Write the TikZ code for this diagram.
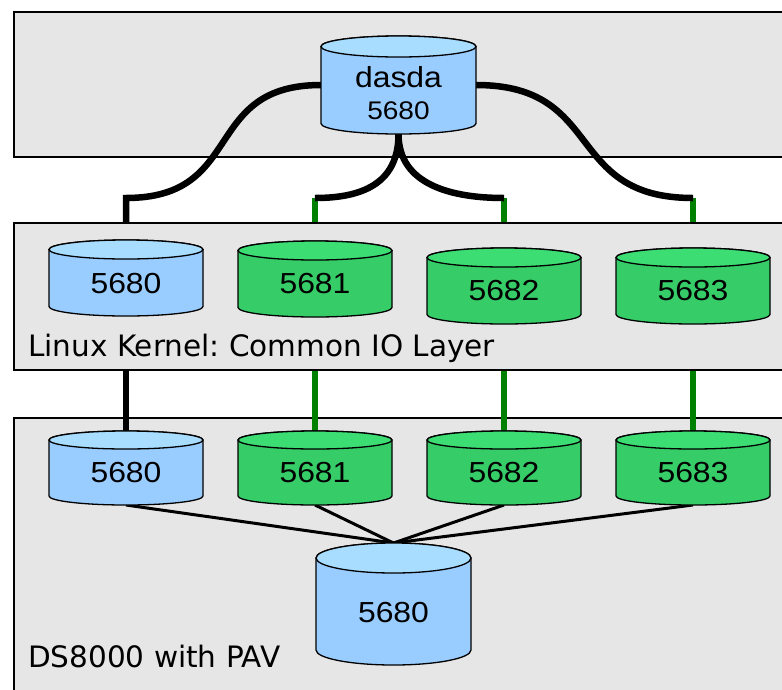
\documentclass[tikz,border=0pt]{standalone}
\usepackage{fontspec}
\setmainfont{DejaVu Sans}
\newfontfamily\numfont[FakeStretch=1.1]{Liberation Sans}
\definecolor{bluebody}{RGB}{153,204,255}
\definecolor{bluetop}{RGB}{168,221,255}
\definecolor{greenbody}{RGB}{54,204,104}
\definecolor{greentop}{RGB}{60,222,116}
\definecolor{boxgrey}{RGB}{230,230,230}
\definecolor{linkgreen}{RGB}{0,128,0}
\frenchspacing
% #1 cx, #2 ytop(px), #3 ybot(px), #4 rx, #5 ry, #6 body colour, #7 top colour
\newcommand\drawcyl[7]{%
  \draw[cylline, fill=#6] ({#1-#4},{-(#2)-(#5)}) -- ({#1-#4},{-(#3)+(#5)})
    arc[start angle=180,end angle=360,x radius=#4pt,y radius=#5pt]
    -- ({#1+#4},{-(#2)-(#5)})
    arc[start angle=0,end angle=180,x radius=#4pt,y radius=#5pt] -- cycle;
  \draw[cylline, fill=#7] (#1,{-(#2)-(#5)}) ellipse [x radius=#4pt, y radius=#5pt];
}
\begin{document}
\begin{tikzpicture}[x=1pt,y=1pt,
  layerbox/.style={draw=black, line width=1.3pt, fill=boxgrey},
  cylline/.style={draw=black, line width=1.3pt},
  span/.style={inner sep=0pt, outer sep=0pt, minimum width=#1pt},
  blackconn/.style={draw=black, line width=6.5pt},
  greenconn/.style={draw=linkgreen, line width=6pt},
  thinconn/.style={draw=black, line width=3pt},
  numtxt/.style={inner sep=0pt, font=\numfont\fontsize{29}{34}\selectfont, anchor=base},
  layertxt/.style={inner sep=0pt, font=\fontsize{29.5}{35}\selectfont, anchor=base west}]
\useasboundingbox (0,0) rectangle (782,-689);
\clip (0,0) rectangle (782,-689);
% geometry nodes (invisible extents of the cylinders)
\node[span=155, minimum height=98pt] (top) at (398.5,-85) {};
\node[span=154, minimum height=76pt] (m0) at (126,-278) {};
\node[span=154, minimum height=76pt] (m1) at (315,-279) {};
\node[span=154, minimum height=76pt] (m2) at (504,-286) {};
\node[span=154, minimum height=76pt] (m3) at (693,-286) {};
\node[span=154, minimum height=74pt] (b0) at (126,-468) {};
\node[span=154, minimum height=74pt] (b1) at (315,-468) {};
\node[span=154, minimum height=74pt] (b2) at (504,-468) {};
\node[span=154, minimum height=74pt] (b3) at (693,-468) {};
\node[span=155, minimum height=122pt] (big) at (393.5,-604) {};
\coordinate (busy) at (0,-198);
% layer boxes
\path[layerbox] (14,-12) rectangle (800,-157);
\path[layerbox] (14,-418) rectangle (800,-700);
% links between kernel and storage layers
\draw[blackconn] (m0.south) -- (b0.north);
\draw[greenconn] (m1.south) -- (b1.north);
\draw[greenconn] (m2.south) -- (b2.north);
\draw[greenconn] (m3.south) -- (b3.north);
% links from dasda to the kernel layer
\draw[greenconn] (m1.north |- busy) -- (m1.north);
\draw[greenconn] (m2.north |- busy) -- (m2.north);
\draw[greenconn] (m3.north |- busy) -- (m3.north);
\draw[blackconn] (top.west) .. controls +(-120,0) and +(120,0) .. (m0.north |- busy) -- (m0.north);
\draw[blackconn] (top.east) .. controls +(130,0) and +(-130,0) .. (m3.north |- busy);
\draw[blackconn] (top.south) .. controls +(0,-51) and +(45,0) .. (m1.north |- busy);
\draw[blackconn] (top.south) .. controls +(0,-51) and +(-52,0) .. (m2.north |- busy);
% kernel layer box
\path[layerbox] (14,-223) rectangle (800,-370);
% links to the physical volume
\draw[thinconn] (b0.south) -- (big.north);
\draw[thinconn] (b1.south) -- (big.north);
\draw[thinconn] (b2.south) -- (big.north);
\draw[thinconn] (b3.south) -- (big.north);
% cylinders
\drawcyl{398.5}{36}{134}{77.5}{10.5}{bluebody}{bluetop}
\drawcyl{126}{240}{316}{77}{9.5}{bluebody}{bluetop}
\drawcyl{315}{241}{317}{77}{9.5}{greenbody}{greentop}
\drawcyl{504}{248}{324}{77}{9.5}{greenbody}{greentop}
\drawcyl{693}{248}{324}{77}{9.5}{greenbody}{greentop}
\drawcyl{126}{431}{505}{77}{9}{bluebody}{bluetop}
\drawcyl{315}{431}{505}{77}{9}{greenbody}{greentop}
\drawcyl{504}{431}{505}{77}{9}{greenbody}{greentop}
\drawcyl{693}{431}{505}{77}{9}{greenbody}{greentop}
\drawcyl{393.5}{543}{665}{77.5}{15}{bluebody}{bluetop}
% texts
\node[numtxt] (topname) at (398.5,-87.3) {dasda};
\node[numtxt, font=\numfont\fontsize{25.5}{30}\selectfont] (topnum) at (398.5,-119) {5680};
\node[numtxt] (m0l) at (126,-293.5) {5680};
\node[numtxt] (m1l) at (315,-293.5) {5681};
\node[numtxt] (m2l) at (504,-300.7) {5682};
\node[numtxt] (m3l) at (693,-300.7) {5683};
\node[numtxt] (b0l) at (126,-482) {5680};
\node[numtxt] (b1l) at (315,-482) {5681};
\node[numtxt] (b2l) at (504,-482) {5682};
\node[numtxt] (b3l) at (693,-482) {5683};
\node[numtxt] (bigl) at (393.5,-622.7) {5680};
\node[layertxt] (kernel) at (28,-356) {Linux Kernel: Common IO Layer};
\node[layertxt] (ds) at (28,-667) {DS8000 with PAV};
\end{tikzpicture}
\end{document}
